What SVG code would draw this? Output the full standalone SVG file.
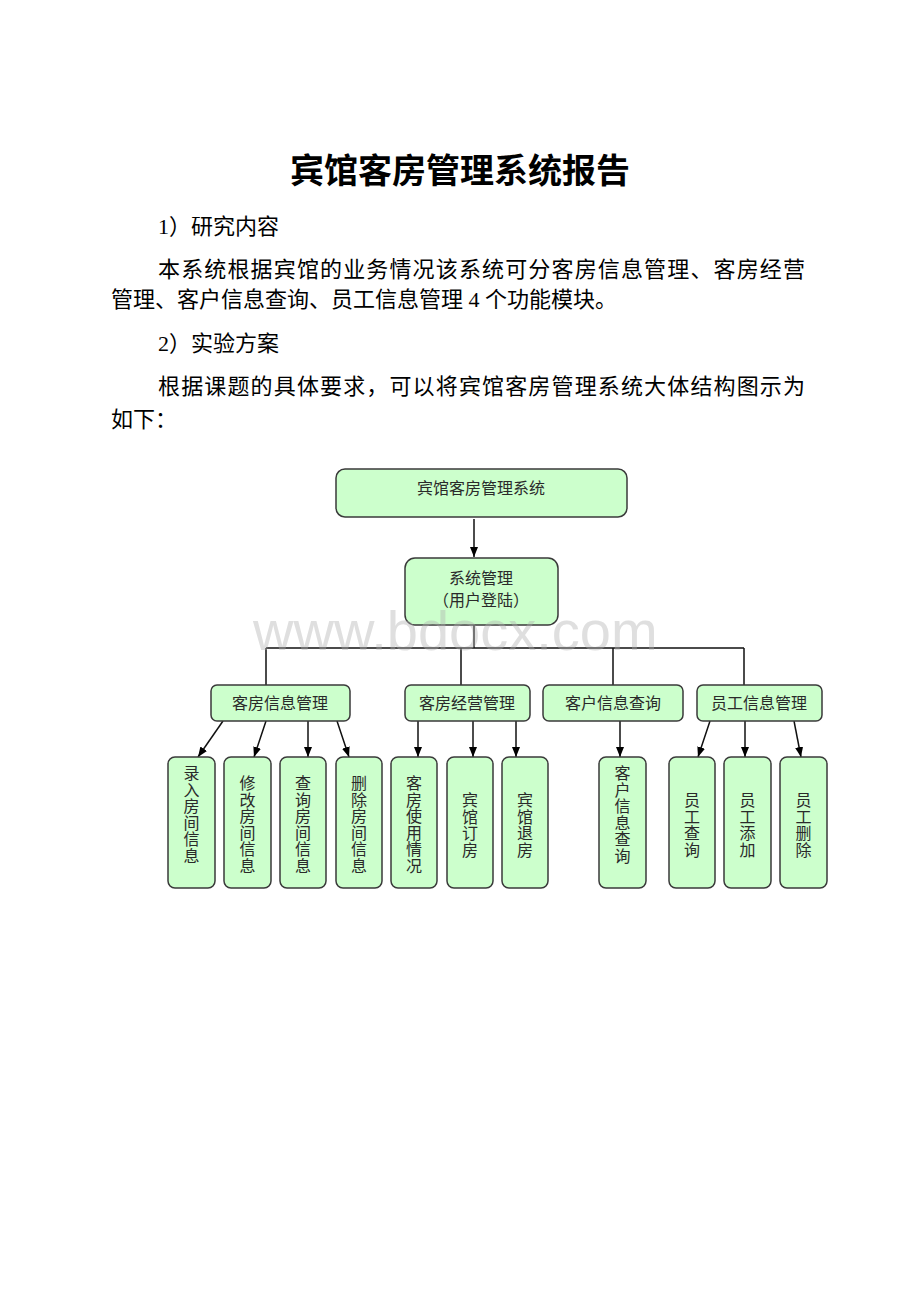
<svg xmlns="http://www.w3.org/2000/svg" width="920" height="1302" viewBox="0 0 920 1302">
<defs>
<style>
.title{font-family:"Liberation Serif","Noto Sans CJK SC",serif;font-size:34px;font-weight:bold;fill:#000}
.body{font-family:"Liberation Serif","Noto Sans CJK SC",serif;font-size:22px;fill:#000}
.box{fill:#ccffcc;stroke:#3a3a3a;stroke-width:1.5}
.lbl{font-family:"Liberation Serif","Noto Sans CJK SC",serif;font-size:16px;fill:#2a2a2a;text-anchor:middle}
.conn{stroke:#111;stroke-width:1.5;fill:none}
.arr{stroke:#111;stroke-width:1.5;fill:none;marker-end:url(#ah)}
.wm{font-family:"Liberation Sans",Arial,sans-serif;font-size:56px;fill:#b0b0b0;opacity:0.4}
</style>
<marker id="ah" markerWidth="10" markerHeight="10" viewBox="0 0 10 10" refX="10" refY="5" orient="auto" markerUnits="userSpaceOnUse">
<path d="M0,1 L10,5 L0,9 Z" fill="#000"/>
</marker>
</defs>
<rect width="920" height="1302" fill="#fff"/>

<text class="title" x="460" y="183" text-anchor="middle">宾馆客房管理系统报告</text>
<text class="body" x="158" y="234">1）研究内容</text>
<text class="body" x="158" y="277" textLength="647" lengthAdjust="spacing">本系统根据宾馆的业务情况该系统可分客房信息管理、客房经营</text>
<text class="body" x="111" y="307">管理、客户信息查询、员工信息管理 4 个功能模块。</text>
<text class="body" x="158" y="351">2）实验方案</text>
<text class="body" x="158" y="394" textLength="647" lengthAdjust="spacing">根据课题的具体要求，可以将宾馆客房管理系统大体结构图示为</text>
<text class="body" x="111" y="427">如下：</text>

<g id="connectors">
<path class="arr" d="M474,519 V557"/>
<path class="conn" d="M474,625 V648 M266,648 H744 M266,648 V685 M461,648 V685 M613,648 V685 M744,648 V685"/>
<path class="arr" d="M223,721 L198,757"/>
<path class="arr" d="M266,721 L254,757"/>
<path class="arr" d="M308,721 V757"/>
<path class="arr" d="M337,721 L349,757"/>
<path class="arr" d="M418,721 V757"/>
<path class="arr" d="M473,721 V757"/>
<path class="arr" d="M516,721 V757"/>
<path class="arr" d="M620,721 V757"/>
<path class="arr" d="M710,721 L698,757"/>
<path class="arr" d="M745,721 V757"/>
<path class="arr" d="M794,721 L801,757"/>
</g>

<g id="n-root"><rect class="box" x="336" y="469" width="291" height="48" rx="9"/><text class="lbl" x="481" y="494">宾馆客房管理系统</text></g>
<g id="n-sys"><rect class="box" x="405" y="558" width="153" height="67" rx="10"/><text class="lbl" x="481" y="584">系统管理</text><text class="lbl" x="481" y="606">（用户登陆）</text></g>

<g id="n-kfxx"><rect class="box" x="211" y="685" width="139" height="36" rx="6"/><text class="lbl" x="280" y="709">客房信息管理</text></g>
<g id="n-kfjy"><rect class="box" x="405" y="685" width="125" height="36" rx="6"/><text class="lbl" x="467" y="709">客房经营管理</text></g>
<g id="n-khcx"><rect class="box" x="543" y="685" width="140" height="36" rx="6"/><text class="lbl" x="613" y="709">客户信息查询</text></g>
<g id="n-ygxx"><rect class="box" x="697" y="685" width="125" height="36" rx="6"/><text class="lbl" x="759" y="709">员工信息管理</text></g>

<g id="l-1"><rect class="box" x="168" y="757" width="47" height="131" rx="7"/><text class="lbl"><tspan x="191.5" y="779">录</tspan><tspan x="191.5" dy="16.5">入</tspan><tspan x="191.5" dy="16.5">房</tspan><tspan x="191.5" dy="16.5">间</tspan><tspan x="191.5" dy="16.5">信</tspan><tspan x="191.5" dy="16.5">息</tspan></text></g>
<g id="l-2"><rect class="box" x="224" y="757" width="47" height="131" rx="7"/><text class="lbl"><tspan x="247.5" y="789">修</tspan><tspan x="247.5" dy="16.5">改</tspan><tspan x="247.5" dy="16.5">房</tspan><tspan x="247.5" dy="16.5">间</tspan><tspan x="247.5" dy="16.5">信</tspan><tspan x="247.5" dy="16.5">息</tspan></text></g>
<g id="l-3"><rect class="box" x="280" y="757" width="46" height="131" rx="7"/><text class="lbl"><tspan x="303" y="789">查</tspan><tspan x="303" dy="16.5">询</tspan><tspan x="303" dy="16.5">房</tspan><tspan x="303" dy="16.5">间</tspan><tspan x="303" dy="16.5">信</tspan><tspan x="303" dy="16.5">息</tspan></text></g>
<g id="l-4"><rect class="box" x="336" y="757" width="46" height="131" rx="7"/><text class="lbl"><tspan x="359" y="789">删</tspan><tspan x="359" dy="16.5">除</tspan><tspan x="359" dy="16.5">房</tspan><tspan x="359" dy="16.5">间</tspan><tspan x="359" dy="16.5">信</tspan><tspan x="359" dy="16.5">息</tspan></text></g>
<g id="l-5"><rect class="box" x="391" y="757" width="46" height="131" rx="7"/><text class="lbl"><tspan x="414" y="789">客</tspan><tspan x="414" dy="16.5">房</tspan><tspan x="414" dy="16.5">使</tspan><tspan x="414" dy="16.5">用</tspan><tspan x="414" dy="16.5">情</tspan><tspan x="414" dy="16.5">况</tspan></text></g>
<g id="l-6"><rect class="box" x="447" y="757" width="46" height="131" rx="7"/><text class="lbl"><tspan x="470" y="806">宾</tspan><tspan x="470" dy="16.5">馆</tspan><tspan x="470" dy="16.5">订</tspan><tspan x="470" dy="16.5">房</tspan></text></g>
<g id="l-7"><rect class="box" x="502" y="757" width="46" height="131" rx="7"/><text class="lbl"><tspan x="525" y="806">宾</tspan><tspan x="525" dy="16.5">馆</tspan><tspan x="525" dy="16.5">退</tspan><tspan x="525" dy="16.5">房</tspan></text></g>
<g id="l-8"><rect class="box" x="599" y="757" width="47" height="131" rx="7"/><text class="lbl"><tspan x="622.5" y="779">客</tspan><tspan x="622.5" dy="16.5">户</tspan><tspan x="622.5" dy="16.5">信</tspan><tspan x="622.5" dy="16.5">息</tspan><tspan x="622.5" dy="16.5">查</tspan><tspan x="622.5" dy="16.5">询</tspan></text></g>
<g id="l-9"><rect class="box" x="669" y="757" width="46" height="131" rx="7"/><text class="lbl"><tspan x="692" y="806">员</tspan><tspan x="692" dy="16.5">工</tspan><tspan x="692" dy="16.5">查</tspan><tspan x="692" dy="16.5">询</tspan></text></g>
<g id="l-10"><rect class="box" x="724" y="757" width="47" height="131" rx="7"/><text class="lbl"><tspan x="747.5" y="806">员</tspan><tspan x="747.5" dy="16.5">工</tspan><tspan x="747.5" dy="16.5">添</tspan><tspan x="747.5" dy="16.5">加</tspan></text></g>
<g id="l-11"><rect class="box" x="780" y="757" width="47" height="131" rx="7"/><text class="lbl"><tspan x="803.5" y="806">员</tspan><tspan x="803.5" dy="16.5">工</tspan><tspan x="803.5" dy="16.5">删</tspan><tspan x="803.5" dy="16.5">除</tspan></text></g>

<text class="wm" x="253" y="650">www.bdocx.com</text>
</svg>
